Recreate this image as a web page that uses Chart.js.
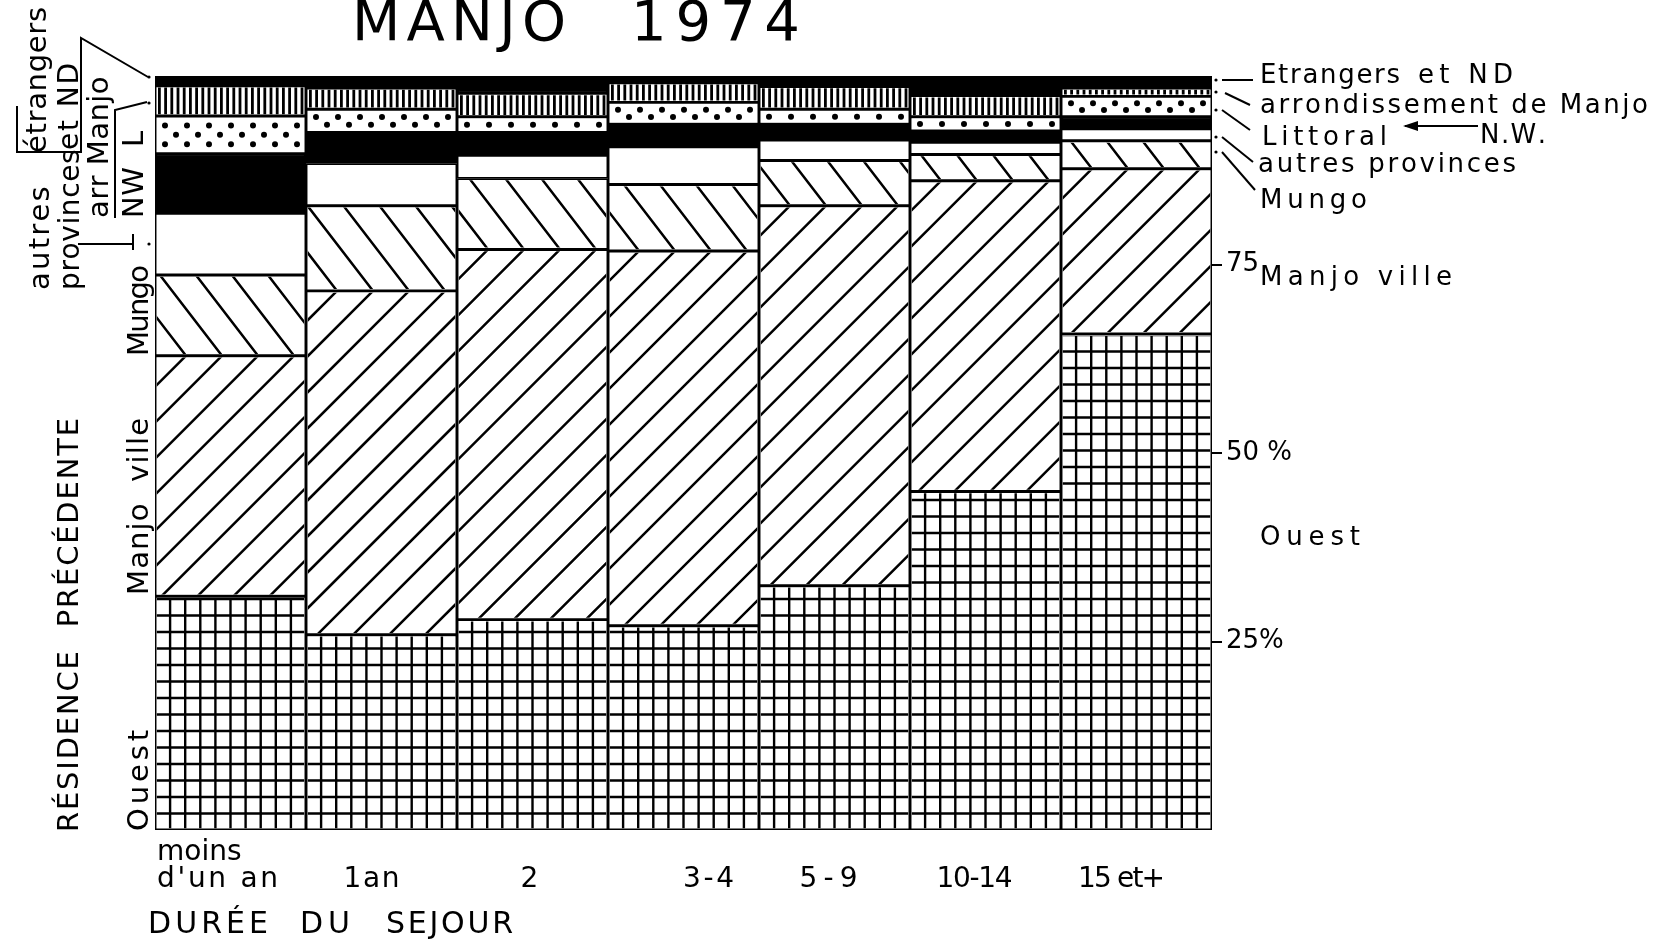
<!DOCTYPE html>
<html>
<head>
<meta charset="utf-8">
<title>Manjo 1974</title>
<script src="https://cdn.jsdelivr.net/npm/chart.js@4.4.0/dist/chart.umd.min.js"></script>
<style>
  html, body { margin: 0; padding: 0; background: #fff; }
  #wrap { width: 1660px; height: 942px; }
</style>
</head>
<body>
<div id="wrap"><canvas id="myChart" width="1660" height="942"></canvas></div>
<script>
// durée du séjour (categories) and résidence précédente (series, % of each bar, bottom to top)
const categories = [["moins", "d'un an"], "1an", "2", "3-4", "5-9", "10-14", "15 et+"];
const ouest = [31.0, 25.9, 27.9, 27.1, 32.4, 44.9, 65.8];
const manjoVille = [31.9, 45.6, 49.1, 49.7, 50.4, 41.2, 21.9];
const mungo = [10.7, 11.3, 9.4, 8.8, 6.0, 3.5, 3.7];
const autresProvinces = [8.2, 5.6, 3.1, 5.0, 2.7, 1.6, 1.6];
const nordOuest = [7.9, 4.1, 3.0, 3.0, 2.1, 1.5, 1.6];
const littoral = [5.0, 3.1, 2.1, 2.9, 2.0, 1.9, 2.7];
const arrManjo = [4.0, 2.8, 3.1, 2.6, 3.0, 2.8, 1.1];
const etrangers = [1.3, 1.6, 2.3, 0.9, 1.4, 2.6, 1.6];
const seriesNames = ["Ouest", "Manjo ville", "Mungo", "autres provinces", "N.W.", "Littoral", "arrondissement de Manjo", "Etrangers et ND"];
const yTicks = [25, 50, 75];
const yTickLabels = ["25%", "50 %", "75"];

const seriesData = [ouest, manjoVille, mungo, autresProvinces, nordOuest, littoral, arrManjo, etrangers];
const fills = ["#fff", "#fff", "#fff", "#fff", "#000", "#fff", "#fff", "#000"];
const hatchKinds = ["grid", "slash", "back", null, null, "dots", "vlines", null];
// hand lettering under the bars: shift from bar centre and stretched width
const labelShift = [-13, -10, -6, 25, -6, -11, -15];
const labelWidth = [121, 56, 12, 51, 58, 76, 87];
const BW = 1.8;
const FONT = "DejaVu Sans";

function drawHatch(ctx, kind, l, r, t, b, axisBottom) {
  const h = b - t;
  ctx.beginPath();
  if (kind === "grid") {
    ctx.lineWidth = 2.4;
    const cw = (r - l) / 10;
    for (let x = l + cw; x < r - 1; x += cw) { ctx.moveTo(x, t); ctx.lineTo(x, b); }
    for (let y = axisBottom - 16.5; y > t; y -= 16.5) { ctx.moveTo(l, y); ctx.lineTo(r, y); }
    ctx.stroke();
  } else if (kind === "slash") {
    // "/" lines, tips on the top edge
    ctx.lineWidth = 2.5;
    for (let k = -Math.ceil(h / 36) - 1; r - 12 - k * 36 > l; k++) {
      const x = r - 12 - k * 36;
      ctx.moveTo(x, t); ctx.lineTo(x - h - 10, t + h + 10);
    }
    ctx.stroke();
  } else if (kind === "back") {
    // "\" lines, tips on the bottom edge (chevrons with the "/" below)
    ctx.lineWidth = 2.5;
    const s = 1.3;
    for (let k = -Math.ceil(h / s / 36) - 1; r - 12 - k * 36 > l; k++) {
      const x = r - 12 - k * 36;
      ctx.moveTo(x, b); ctx.lineTo(x - (h + 10) / s, b - h - 10);
    }
    ctx.stroke();
  } else if (kind === "dots") {
    const rows = h >= 20 ? Math.max(2, Math.floor(h / 12)) : 1;
    for (let j = 0; j < rows; j++) {
      const y = t + h * (j + 1) / (rows + 1);
      for (let x = l + 10 + (j % 2) * 11; x < r - 5; x += 22) {
        ctx.moveTo(x + 3, y);
        ctx.arc(x, y, 3, 0, Math.PI * 2);
      }
    }
    ctx.fill();
  } else if (kind === "vlines") {
    for (let x = l + 3; x < r; x += 6.2) ctx.rect(x, t, 2.8, h);
    ctx.fill();
  }
}

const hatchPlugin = {
  id: "hatch",
  afterDatasetsDraw(chart) {
    const ctx = chart.ctx;
    const axisBottom = chart.chartArea.bottom;
    chart.data.datasets.forEach((ds, i) => {
      const kind = hatchKinds[i];
      if (!kind) return;
      chart.getDatasetMeta(i).data.forEach(bar => {
        const p = bar.getProps(["x", "y", "base", "width"], true);
        const l = p.x - p.width / 2, r = p.x + p.width / 2;
        const t = Math.min(p.y, p.base), b = Math.max(p.y, p.base);
        ctx.save();
        ctx.beginPath();
        ctx.rect(l + BW, t + BW, r - l - 2 * BW, b - t - 2 * BW);
        ctx.clip();
        ctx.strokeStyle = "#000";
        ctx.fillStyle = "#000";
        drawHatch(ctx, kind, l, r, t, b, axisBottom);
        ctx.restore();
      });
    });
  }
};

// text stretched over a given width, like the hand lettering
function spaced(ctx, text, x, y, width) {
  const chars = [...text];
  const natural = ctx.measureText(text).width;
  const gap = chars.length > 1 ? (width - natural) / (chars.length - 1) : 0;
  let cx = x;
  for (const ch of chars) {
    ctx.fillText(ch, cx, y);
    cx += ctx.measureText(ch).width + gap;
  }
}

function vText(ctx, text, bx, y0, y1, size) {
  ctx.save();
  ctx.translate(bx, y0);
  ctx.rotate(-Math.PI / 2);
  ctx.font = size + "px '" + FONT + "'";
  spaced(ctx, text, 0, 0, y0 - y1);
  ctx.restore();
}

function line(ctx, pts) {
  ctx.beginPath();
  ctx.moveTo(pts[0], pts[1]);
  for (let i = 2; i < pts.length; i += 2) ctx.lineTo(pts[i], pts[i + 1]);
  ctx.stroke();
}

function dot(ctx, x, y) {
  ctx.beginPath();
  ctx.arc(x, y, 1.6, 0, Math.PI * 2);
  ctx.fill();
}

const labelsPlugin = {
  id: "labels",
  afterDraw(chart) {
    const ctx = chart.ctx;
    ctx.save();
    ctx.fillStyle = "#000";
    ctx.strokeStyle = "#000";
    ctx.textBaseline = "alphabetic";
    ctx.textAlign = "left";

    // category labels, placed from the x scale
    const xs = chart.scales.x;
    ctx.font = "28px '" + FONT + "'";
    categories.forEach((c, i) => {
      const lines = Array.isArray(c) ? c : [c];
      const w = labelWidth[i];
      const left = xs.getPixelForValue(i) + labelShift[i] - w / 2;
      lines.forEach((txt, j) => {
        const y = 887 - (lines.length - 1 - j) * 27;
        const lw = j === lines.length - 1 ? w : w * 0.7;
        spaced(ctx, txt, left, y, lw);
      });
    });

    // title
    ctx.font = "56px '" + FONT + "'";
    spaced(ctx, "MANJO", 352, 40, 214);
    spaced(ctx, "1974", 631, 40, 169);

    // axis title
    ctx.font = "30px '" + FONT + "'";
    spaced(ctx, "DURÉE", 148, 933, 120);
    spaced(ctx, "DU", 300, 933, 50);
    spaced(ctx, "SEJOUR", 386, 933, 127);

    // right-hand key
    ctx.font = "26px '" + FONT + "'";
    spaced(ctx, "Etrangers", 1260, 83, 140);
    spaced(ctx, "et ND", 1418, 83, 95);
    spaced(ctx, "arrondissement de Manjo", 1260, 113, 387);
    spaced(ctx, "Littoral", 1262, 145, 125);
    spaced(ctx, "N.W.", 1480, 143, 63);
    spaced(ctx, "autres provinces", 1258, 172, 257);
    spaced(ctx, "Mungo", 1260, 208, 107);
    spaced(ctx, "Manjo ville", 1260, 285, 192);
    spaced(ctx, "Ouest", 1260, 545, 100);

    ctx.lineWidth = 2;
    line(ctx, [1222, 80, 1253, 80]);
    line(ctx, [1225, 93, 1250, 105]);
    line(ctx, [1222, 110, 1250, 130]);
    line(ctx, [1222, 137, 1253, 162]);
    line(ctx, [1222, 152, 1255, 190]);
    [80, 92, 110, 137, 152].forEach(y => dot(ctx, 1216, y));
    // arrow N.W. -> Littoral
    line(ctx, [1405, 126, 1478, 126]);
    ctx.beginPath();
    ctx.moveTo(1403, 126); ctx.lineTo(1418, 121); ctx.lineTo(1418, 131); ctx.closePath();
    ctx.fill();

    // left-hand key, rotated
    vText(ctx, "RÉSIDENCE  PRÉCÉDENTE", 78, 832, 418, 29);
    vText(ctx, "Ouest", 148, 831, 730, 29);
    vText(ctx, "Manjo  ville", 148, 595, 418, 29);
    vText(ctx, "Mungo", 148, 356, 265, 29);
    vText(ctx, "autres", 49, 290, 187, 29);
    vText(ctx, "provinces", 79, 290, 150, 28);
    vText(ctx, "étrangers", 46, 153, 7, 29);
    vText(ctx, "et ND", 78, 150, 63, 28);
    vText(ctx, "arr Manjo", 108, 218, 77, 29);
    vText(ctx, "NW", 143, 218, 167, 29);
    vText(ctx, "L", 143, 147, 128, 29);

    line(ctx, [17, 106, 17, 152, 81, 152, 81, 38, 148, 77]);
    line(ctx, [115, 218, 115, 110, 147, 102]);
    line(ctx, [78, 244, 133, 244]);
    line(ctx, [133, 234, 133, 250]);
    [77, 103, 244].forEach(y => dot(ctx, 149, y));
    ctx.restore();
  }
};

const ctx = document.getElementById("myChart").getContext("2d");
const myChart = new Chart(ctx, {
  type: "bar",
  data: {
    labels: categories.map(c => Array.isArray(c) ? c.join(" ") : c),
    datasets: seriesData.map((values, i) => ({
      label: seriesNames[i],
      data: values,
      backgroundColor: fills[i],
      borderColor: "#000",
      borderWidth: BW,
      borderSkipped: false,
      barPercentage: 1,
      categoryPercentage: 1,
    })),
  },
  options: {
    responsive: false,
    devicePixelRatio: 1,
    animation: false,
    layout: { padding: { left: 155, top: 76, right: 0, bottom: 0 } },
    plugins: {
      legend: { display: false },
      tooltip: { enabled: false },
    },
    scales: {
      x: {
        stacked: true,
        grid: { display: false },
        border: { display: false },
        ticks: { display: false },
        afterFit: (scale) => { scale.height = 112; },
      },
      y: {
        stacked: true,
        position: "right",
        min: 0,
        max: 100,
        grid: {
          drawOnChartArea: false,
          drawTicks: true,
          tickLength: 10,
          color: "#000",
          lineWidth: 2,
        },
        border: { display: false },
        afterBuildTicks: (scale) => { scale.ticks = yTicks.map(v => ({ value: v })); },
        ticks: {
          color: "#000",
          padding: 4,
          font: { family: FONT, size: 26 },
          callback: (v) => yTickLabels[yTicks.indexOf(v)],
        },
        afterFit: (scale) => { scale.width = 448; },
      },
    },
  },
  plugins: [hatchPlugin, labelsPlugin],
});
</script>
</body>
</html>
